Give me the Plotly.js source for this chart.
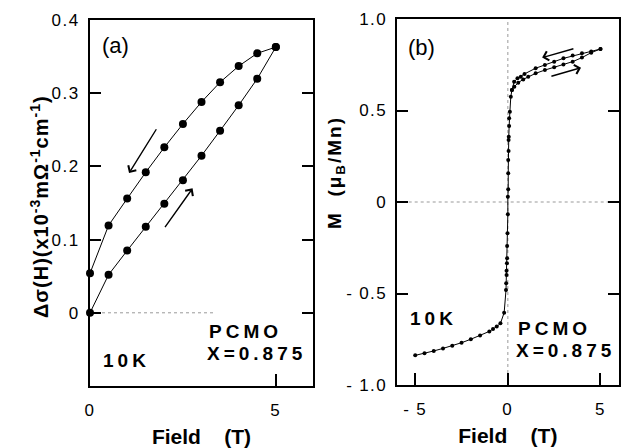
<!DOCTYPE html>
<html>
<head>
<meta charset="utf-8">
<script src="https://cdn.plot.ly/plotly-3.0.1.min.js"></script>
<style>
  html, body { margin: 0; padding: 0; background: #fff; }
  #chart { width: 625px; height: 448px; }
  .xtick text, .ytick text, .x2tick text, .y2tick text { letter-spacing: 1.5px; }
  g.annotation[data-index="0"] text, g.annotation[data-index="1"] text,
  g.annotation[data-index="2"] text, g.annotation[data-index="3"] text,
  g.annotation[data-index="4"] text, g.annotation[data-index="5"] text { letter-spacing: 4px; }
  g.annotation[data-index="8"] text { letter-spacing: 1px; }
  g.annotation[data-index="9"] text { letter-spacing: 2px; }
</style>
</head>
<body>
<div id="chart"></div>
<script>
// ---- Panel (a): magnetoconductance vs field ----
const fieldIncA = [0, 0.5, 1, 1.5, 2, 2.5, 3, 3.5, 4, 4.5, 5];
const sigmaIncA = [0.000, 0.052, 0.085, 0.1175, 0.149, 0.181, 0.2146, 0.2488, 0.2834, 0.3198, 0.363];
const fieldDecA = [5, 4.5, 4, 3.5, 3, 2.5, 2, 1.5, 1, 0.5, 0];
const sigmaDecA = [0.363, 0.3545, 0.337, 0.315, 0.288, 0.258, 0.226, 0.192, 0.156, 0.1194, 0.054];

// ---- Panel (b): magnetization vs field ----
const fieldIncB = [-5, -4.5, -4, -3.5, -3, -2.5, -2, -1.5, -1, -0.8, -0.6, -0.4, -0.2,
  -0.1, -0.09, -0.07, -0.07, -0.05, -0.04, -0.04, -0.02, 0, 0, 0.02, 0.02, 0.02, 0.04, 0.04,
  0.05, 0.07, 0.07, 0.11, 0.16, 0.22, 0.35, 0.56, 0.83, 1.1, 1.5, 2, 2.5, 3, 3.5, 4, 4.5, 5];
const magIncB = [-0.838, -0.827, -0.814, -0.800, -0.785, -0.769, -0.750, -0.730, -0.707, -0.694, -0.681, -0.663, -0.605,
  -0.481, -0.444, -0.399, -0.375, -0.335, -0.308, -0.240, -0.171, -0.067, 0.029, 0.069, 0.157, 0.230, 0.279, 0.339,
  0.357, 0.415, 0.457, 0.493, 0.575, 0.612, 0.630, 0.652, 0.670, 0.685, 0.703, 0.721, 0.736, 0.752, 0.767, 0.789, 0.816, 0.836];
const fieldDecB = [5, 4.5, 4, 3.5, 3, 2.5, 2, 1.5, 0.9, 0.7, 0.52, 0.34, 0.22];
const magDecB = [0.836, 0.823, 0.813, 0.800, 0.785, 0.767, 0.749, 0.731, 0.700, 0.685, 0.676, 0.657, 0.612];

// ---- ticks and tick labels ----
const xTickValsA = [0, 5];
const xTickTextA = ['0', '5'];
const xMinorA = [1, 2, 3, 4];
const xTopA = [1, 2, 3, 4, 5];
const yTickValsA = [0, 0.1, 0.2, 0.3, 0.4];
const yTickTextA = ['0', '0.1', '0.2', '0.3', '0.4'];
const xTickValsB = [-5, 0, 5];
const xTickTextB = ['-\u20055', '0', '5'];
const xMinorB = [-4, -3, -2, -1, 1, 2, 3, 4];
const xTopB = [-5, -4, -3, -2, -1, 0, 1, 2, 3, 4, 5];
const yTickValsB = [-1, -0.5, 0, 0.5, 1];
const yTickTextB = ['-\u20051.0', '-\u20050.5', '0', '0.5', '1.0'];

const W = 625, H = 448;
const px = v => v / W;
const py = v => 1 - v / H;
const FONT = 'Liberation Sans, Arial, sans-serif';

const traces = [
  { x: fieldIncA, y: sigmaIncA, xaxis: 'x', yaxis: 'y', mode: 'lines+markers', cliponaxis: false,
    line: { color: '#000', width: 1 }, marker: { color: '#000', size: 8 }, hoverinfo: 'x+y' },
  { x: fieldDecA, y: sigmaDecA, xaxis: 'x', yaxis: 'y', mode: 'lines+markers', cliponaxis: false,
    line: { color: '#000', width: 1 }, marker: { color: '#000', size: 8 }, hoverinfo: 'x+y' },
  { x: fieldIncB, y: magIncB, xaxis: 'x2', yaxis: 'y2', mode: 'lines+markers', cliponaxis: false,
    line: { color: '#000', width: 1 }, marker: { color: '#000', size: 4 }, hoverinfo: 'x+y' },
  { x: fieldDecB, y: magDecB, xaxis: 'x2', yaxis: 'y2', mode: 'lines+markers', cliponaxis: false,
    line: { color: '#000', width: 1 }, marker: { color: '#000', size: 4 }, hoverinfo: 'x+y' }
];

const tickFont = { family: FONT, size: 17, color: '#000' };
const titleFont = { family: FONT, size: 21, color: '#000', weight: 'bold' };
const domYA = [py(386), py(20)];
const domYB = [py(385), py(19)];

const baseAxis = {
  showgrid: false, zeroline: false, showline: true, linecolor: '#000', linewidth: 2,
  ticks: 'inside', tickcolor: '#000', tickwidth: 2, tickfont: tickFont, tickmode: 'array'
};
function minorAxis(over, anchor, side, range, vals, len) {
  return { overlaying: over, side: side, anchor: anchor, range: range, showgrid: false, zeroline: false,
    showline: false, ticks: 'inside', ticklen: len, tickwidth: 2, tickcolor: '#000',
    tickmode: 'array', tickvals: vals, showticklabels: false };
}

const layout = {
  width: W, height: H,
  margin: { l: 0, r: 0, t: 0, b: 0 },
  paper_bgcolor: '#fff', plot_bgcolor: '#fff',
  showlegend: false,
  font: { family: FONT, color: '#000' },
  xaxis: Object.assign({}, baseAxis, {
    domain: [px(90), px(313)], range: [0, 6], anchor: 'y', mirror: true,
    ticklen: 12, tickvals: xTickValsA, ticktext: xTickTextA, ticklabelstandoff: 8,
    title: { text: 'Field\u00a0\u00a0\u00a0\u00a0(T)', font: titleFont, standoff: 10 }
  }),
  yaxis: Object.assign({}, baseAxis, {
    domain: domYA, range: [-0.1, 0.4], anchor: 'x', mirror: 'ticks',
    ticklen: 11, tickvals: yTickValsA, ticktext: yTickTextA, ticklabelstandoff: 5
  }),
  xaxis3: minorAxis('x', 'y', 'top', [0, 6], xTopA, 6),
  xaxis5: minorAxis('x', 'y', 'bottom', [0, 6], xMinorA, 12),
  xaxis2: Object.assign({}, baseAxis, {
    domain: [px(396.7), px(619)], range: [-6, 6], anchor: 'y2', mirror: true,
    ticklen: 12, tickvals: xTickValsB, ticktext: xTickTextB, ticklabelstandoff: 8,
    title: { text: 'Field\u00a0\u00a0\u00a0\u00a0(T)', font: titleFont, standoff: 10 }
  }),
  yaxis2: Object.assign({}, baseAxis, {
    domain: domYB, range: [-1, 1], anchor: 'x2', mirror: 'ticks',
    ticklen: 11, tickvals: yTickValsB, ticktext: yTickTextB, ticklabelstandoff: 4
  }),
  xaxis4: minorAxis('x2', 'y2', 'top', [-6, 6], xTopB, 6),
  xaxis6: minorAxis('x2', 'y2', 'bottom', [-6, 6], xMinorB, 12),
  shapes: [
    { type: 'line', xref: 'x', yref: 'y', x0: 0, x1: 3.36, y0: 0, y1: 0,
      line: { color: '#999', width: 1, dash: 'dot' }, layer: 'below' },
    { type: 'line', xref: 'x2', yref: 'y2', x0: -6, x1: 5.6, y0: 0, y1: 0,
      line: { color: '#999', width: 1, dash: 'dot' }, layer: 'below' },
    { type: 'line', xref: 'x2', yref: 'y2 domain', x0: 0, x1: 0, y0: 0, y1: 1,
      line: { color: '#999', width: 1, dash: 'dot' }, layer: 'below' }
  ],
  annotations: []
};

const boldLbl = { family: FONT, size: 19, color: '#000', weight: 'bold' };
function txt(text, x, y, font, extra) {
  return Object.assign({ text: text, xref: 'paper', yref: 'paper', x: px(x), y: py(y),
    xanchor: 'center', yanchor: 'middle', showarrow: false, font: font }, extra || {});
}
layout.annotations.push(
  txt('PCMO', 245, 331, boldLbl),
  txt('X=0.875', 257, 353, boldLbl),
  txt('10K', 126, 360, boldLbl),
  txt('PCMO', 554, 328, boldLbl),
  txt('X=0.875', 566, 350, boldLbl),
  txt('10K', 433, 318, boldLbl),
  txt('(a)', 115, 46, { family: FONT, size: 22, color: '#000' }),
  txt('(b)', 421, 47, { family: FONT, size: 22, color: '#000' }),
  txt('\u0394\u03c3(H)(x10<sup>-3</sup>m\u03a9<sup>-1</sup>cm<sup>-1</sup>)', 39, 207,
      { family: FONT, size: 20, color: '#000', weight: 'bold' }, { textangle: -90 }),
  txt('M\u00a0\u00a0(\u03bc<sub>B</sub>/Mn)', 336, 173,
      { family: FONT, size: 19, color: '#000', weight: 'bold' }, { textangle: -90 })
);
function arrow(xr, yr, x, y, ax, ay) {
  return { xref: xr, yref: yr, axref: xr, ayref: yr, x: x, y: y, ax: ax, ay: ay, text: '',
    showarrow: true, arrowhead: 4, arrowsize: 1.3, arrowwidth: 1.4, arrowcolor: '#000', standoff: 0 };
}
layout.annotations.push(
  arrow('x', 'y', 1.05, 0.191, 1.81, 0.2528),
  arrow('x', 'y', 2.76, 0.170, 1.99, 0.115),
  arrow('x2', 'y2', 1.85, 0.789, 3.62, 0.840),
  arrow('x2', 'y2', 3.95, 0.734, 2.27, 0.685)
);

Plotly.newPlot('chart', traces, layout, { staticPlot: true, displayModeBar: false });
</script>
</body>
</html>
